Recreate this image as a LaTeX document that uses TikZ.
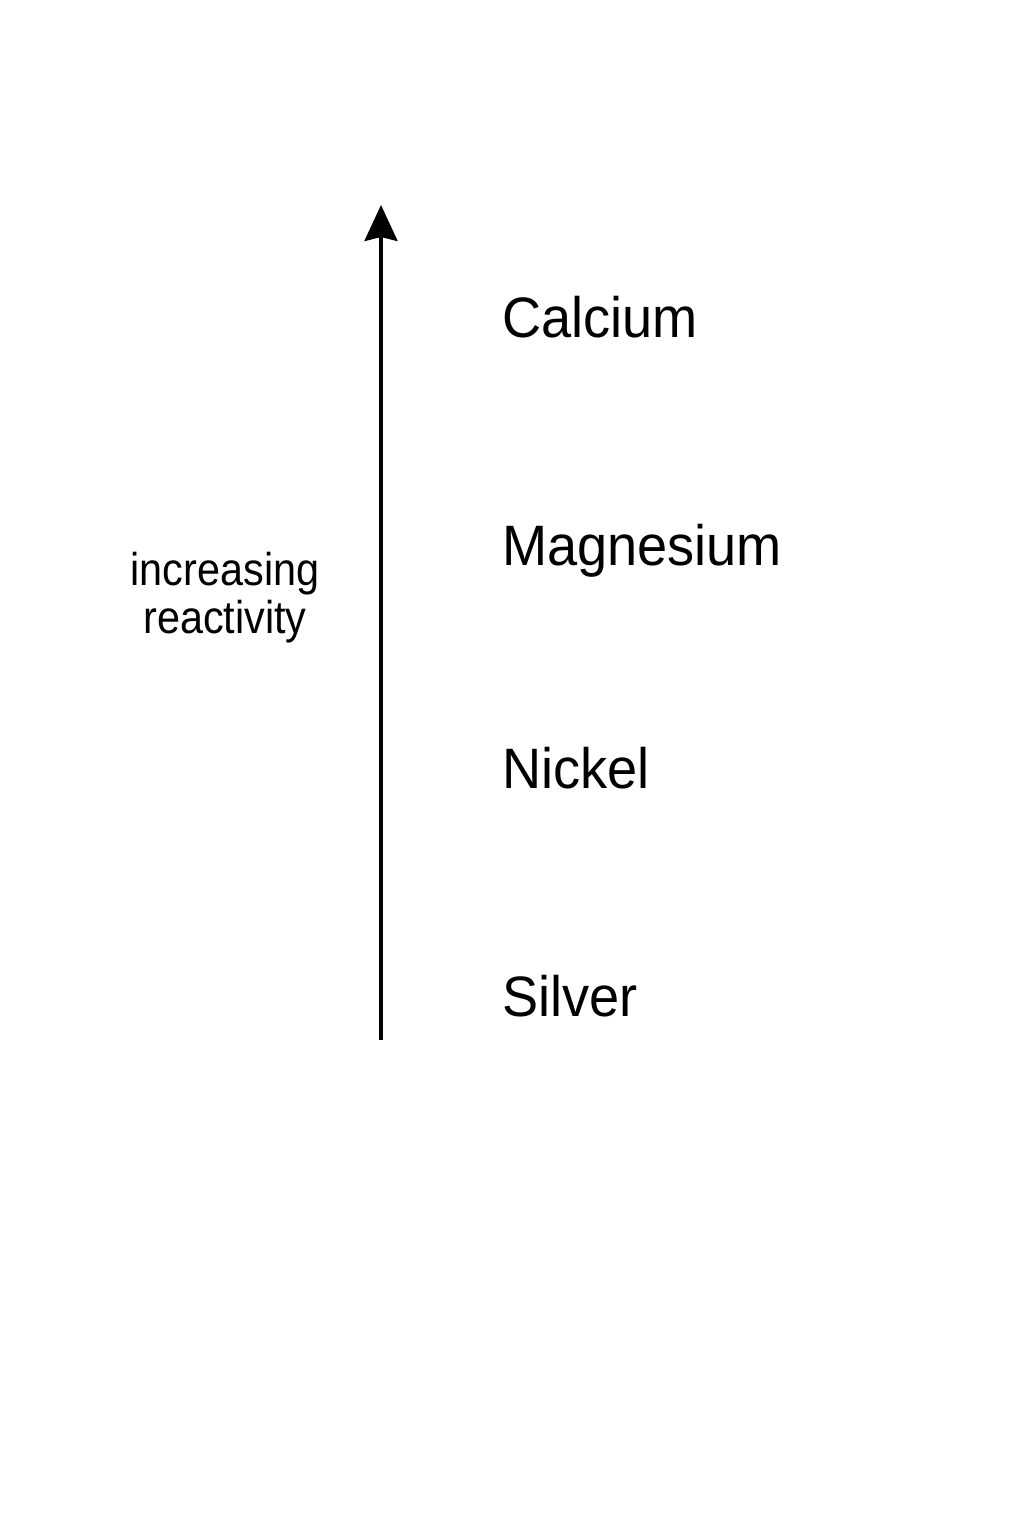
\documentclass[tikz,border=0pt]{standalone}
\usepackage{fontspec}
\setmainfont{Liberation Sans}
\newfontfamily\labelfont[FakeStretch=0.95]{Liberation Sans}
\newfontfamily\sidefont[FakeStretch=0.9]{Liberation Sans}
\usetikzlibrary{arrows.meta}
\begin{document}
\begin{tikzpicture}[x=1pt,y=-1pt,
  metal/.style={anchor=base west,inner sep=0pt,font=\labelfont\fontsize{57}{68}\selectfont},
  side/.style={align=center,inner sep=0pt,font=\sidefont\fontsize{46}{48}\selectfont},
  axis/.style={line width=3.5pt,-{Stealth[length=36pt,width=33pt,inset=4pt]}}]
\fill[white] (0,0) rectangle (1024,1536);
\useasboundingbox (0,0) rectangle (1024,1536);
\coordinate (bot) at (381,1040);
\coordinate (tip) at (381,205);
\draw[axis] (bot) -- (tip);
\node[metal] (ca) at (502,337) {Calcium};
\node[metal] (mg) at (502,565) {Magnesium};
\node[metal] (ni) at (502,788) {Nickel};
\node[metal] (ag) at (502,1016) {Silver};
\node[side,anchor=base] (lbl) at (225,633) {increasing\\reactivity};
\end{tikzpicture}
\end{document}
